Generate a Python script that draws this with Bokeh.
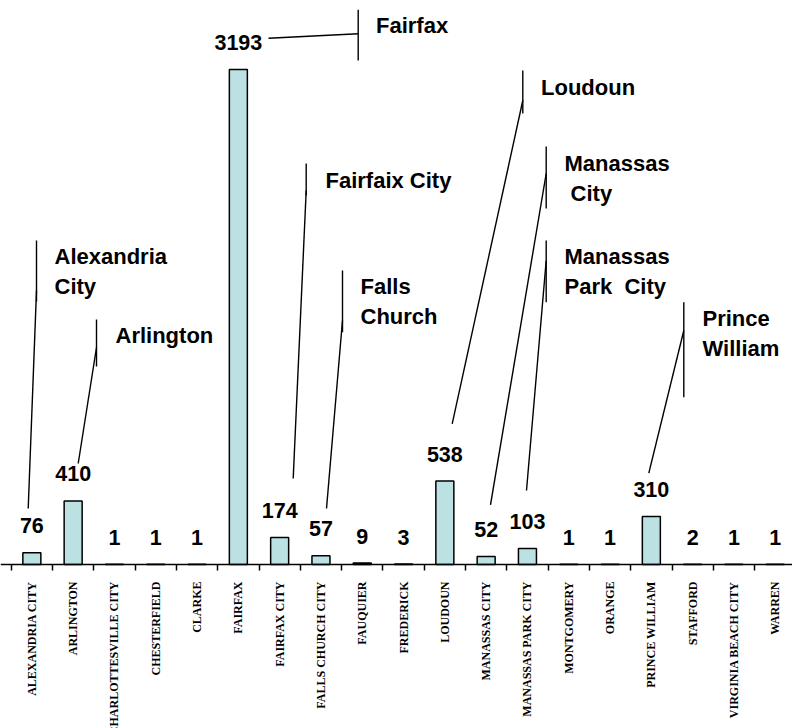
import numpy as np
from bokeh.plotting import figure
from bokeh.models import Range1d, FixedTicker, ColumnDataSource
from bokeh.core.properties import value
from bokeh.embed import file_html
from bokeh.resources import INLINE

# ---------------- data ----------------
categories = ["ALEXANDRIA CITY", "ARLINGTON", "CHARLOTTESVILLE CITY", "CHESTERFIELD",
              "CLARKE", "FAIRFAX", "FAIRFAX CITY", "FALLS CHURCH CITY", "FAUQUIER",
              "FREDERICK", "LOUDOUN", "MANASSAS CITY", "MANASSAS PARK CITY",
              "MONTGOMERY", "ORANGE", "PRINCE WILLIAM", "STAFFORD",
              "VIRGINIA BEACH CITY", "WARREN"]
counts = [76, 410, 1, 1, 1, 3193, 174, 57, 9, 3, 538, 52, 103, 1, 1, 310, 2, 1, 1]

callout_names = ["Alexandria\nCity", "Arlington", "Fairfax", "Fairfaix City",
                 "Falls\nChurch", "Loudoun", "Manassas\n\u00a0City",
                 "Manassas\nPark\u00a0 City", "Prince\nWilliam"]

# ---------------- layout (page pixels) ----------------
X0, XS = 10.7, 41.3      # page x of first category boundary, px per category
Y0, YS = 564.0, 0.155    # page y of baseline, px per unit
OX, OY = 0, 0            # page offset of the canvas
W, H = 792, 728

def X(px):
    return (px - X0) / XS

def Y(py):
    return (Y0 - py) / YS

# text_x, text_y(center), bar_x, bar_y0, bar_y1, join_y, end_x, end_y
callout_layout = [
    (54, 271, 36, 240, 301, 290, 27.7, 508),
    (115, 335, 96, 319, 366, 347, 77.7, 463),
    (375.5, 25, 357.7, 9.3, 60, 33.3, 268, 37.7),
    (325, 180, 305.7, 163, 195, 190, 292.7, 478),
    (360, 300.5, 342, 270, 331.7, 320, 326, 508),
    (540.5, 86.7, 522.3, 70, 113, 100, 451.7, 423.3),
    (564, 177.5, 545.7, 146, 208, 173, 490, 504.3),
    (564, 271, 545.7, 240, 301.7, 260, 526, 490),
    (702, 333.2, 683.3, 301.7, 396.7, 330, 648.3, 472.7),
]

p = figure(width=W, height=H, output_backend="svg", toolbar_location=None,
           x_range=Range1d(X(OX), X(OX + W)), y_range=Range1d(Y(OY + H), Y(OY)),
           y_axis_location=None, min_border=0, outline_line_color=None,
           background_fill_color="white", border_fill_color="white")
p.grid.visible = False

centers = np.arange(len(categories)) + 0.5
src = ColumnDataSource(dict(x=centers, top=counts,
                            ly=np.array(counts) + 27 / YS,
                            txt=[str(c) for c in counts]))

p.vbar(x="x", top="top", bottom=0, width=18 / XS, source=src,
       fill_color="#BCE1E3", line_color="black", line_width=1.5)

p.text(x="x", y="ly", text="txt", source=src, text_align="center",
       text_baseline="alphabetic", text_font=value("Liberation Sans"),
       text_font_style="bold", text_font_size="21.5px", text_color="black")

# axis
ax = p.xaxis[0]
ax.fixed_location = 0
ax.ticker = FixedTicker(ticks=list(centers), minor_ticks=list(range(len(categories) + 1)))
ax.major_label_overrides = {float(c): n for c, n in zip(centers, categories)}
ax.major_label_orientation = np.pi / 2
ax.major_tick_line_color = None
ax.major_tick_out = 6
ax.major_tick_in = 0
ax.major_label_standoff = 11
ax.minor_tick_line_color = "black"
ax.minor_tick_line_width = 1.5
ax.minor_tick_out = 6
ax.minor_tick_in = 0
ax.axis_line_color = "black"
ax.axis_line_width = 1.5
ax.major_label_text_font = "Liberation Serif"
ax.major_label_text_font_style = "bold"
ax.major_label_text_font_size = "12px"
ax.major_label_text_color = "black"

# callouts
x0s, y0s, x1s, y1s = [], [], [], []
tx, ty = [], []
for name, (txp, typ, bx, by0, by1, jy, ex, ey) in zip(callout_names, callout_layout):
    x0s += [X(bx), X(bx)]
    y0s += [Y(by0), Y(jy)]
    x1s += [X(bx), X(ex)]
    y1s += [Y(by1), Y(ey)]
    tx.append(X(txp))
    ty.append(Y(typ))

p.segment(x0=x0s, y0=y0s, x1=x1s, y1=y1s, line_color="black", line_width=1.4)
p.text(x=tx, y=ty, text=callout_names, text_align="left", text_baseline="middle",
       text_font=value("Liberation Sans"), text_font_style="bold",
       text_font_size="22px", text_line_height=1.2, text_color="black")

open("out.html", "w").write(file_html(p, INLINE))
